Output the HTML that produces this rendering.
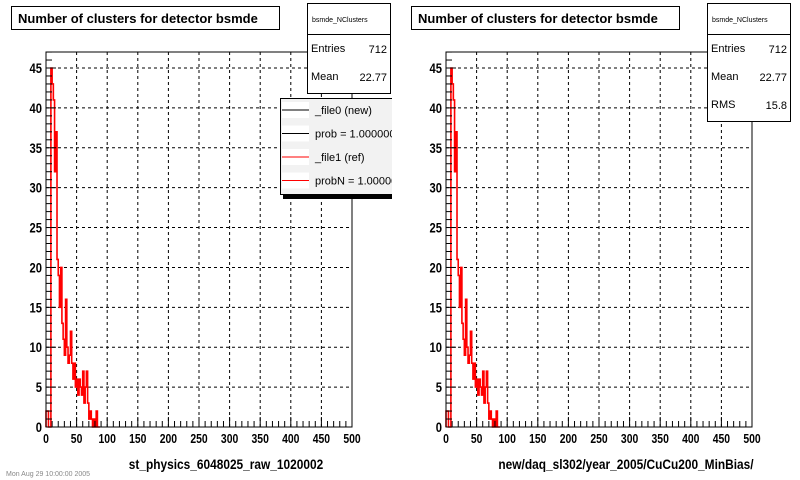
<!DOCTYPE html>
<html><head><meta charset="utf-8"><style>
html,body{margin:0;padding:0;background:#fff;width:800px;height:480px;overflow:hidden}
svg{display:block;font-family:"Liberation Sans",sans-serif}
</style></head><body>
<svg id="c" width="800" height="480" viewBox="0 0 800 480">
<defs><clipPath id="legclip"><rect x="0" y="0" width="392" height="480"/></clipPath></defs>
</svg>
<script>
const binWidth = 2;
const counts = [2,2,0,0,45,43,41,32,37,21,19,15,20,13,11,9,16,10,8,9,12,8,6,8,5,6,4,6,5,4,7,3,5,7,3,1,2,1,0,1,0,2,0,0];
const xTicks = [0,50,100,150,200,250,300,350,400,450,500];
const yTicks = [0,5,10,15,20,25,30,35,40,45];
const xTitles = ["st_physics_6048025_raw_1020002","new/daq_sl302/year_2005/CuCu200_MinBias/"];
const statsLeft = [["Entries","712"],["Mean","22.77"]];
const statsRight = [["Entries","712"],["Mean","22.77"],["RMS","15.8"]];
const legendLabels = ["_file0 (new)","prob = 1.000000","_file1 (ref)","probN = 1.000000"];
const legendColors = ["#000","#000","#f00","#f00"];

const NS="http://www.w3.org/2000/svg";
const svg=document.getElementById('c');
function mk(tag,attrs,parent){const e=document.createElementNS(NS,tag);for(const k in attrs)e.setAttribute(k,attrs[k]);(parent||svg).appendChild(e);return e;}

function panel(ox, idx, stats, legend){
  const g=mk('g',{});
  
  
  const L=ox+46,R=ox+352,T=52,B=427;
  const xs=v=>L+(v/500)*(R-L);
  const ys=v=>B-v*(B-68)/45;
  xTicks.slice(1,-1).forEach(v=>{const l=mk('line',{x1:xs(v),x2:xs(v),y1:T,y2:B,stroke:'#000','stroke-dasharray':'3,3','stroke-width':1},g);
    });
  yTicks.slice(1).forEach(v=>{const l=mk('line',{x1:L,x2:R,y1:ys(v),y2:ys(v),stroke:'#000','stroke-dasharray':'3,3','stroke-width':1},g);
    });
  let d=`M${xs(0)},${ys(0)}`;
  counts.forEach((c,i)=>{d+=` L${xs(i*binWidth)},${ys(c)} L${xs((i+1)*binWidth)},${ys(c)}`;});
  d+=` L${xs(counts.length*binWidth)},${ys(0)}`;
  const h=mk('path',{d:d,fill:'none',stroke:'#f00','stroke-width':1.6},g);
  
  
  const f=mk('rect',{x:L,y:T,width:R-L,height:B-T,fill:'none',stroke:'#000','stroke-width':1},g);
  
  for(let v=0;v<=500;v+=10){const major=v%50===0;mk('line',{x1:xs(v),x2:xs(v),y1:B,y2:B-(major?10:6),stroke:'#000'},g);}
  for(let v=0;v<=47;v+=1){if(ys(v)<T)break;const major=v%5===0;mk('line',{x1:L,x2:L+(major?10:6),y1:ys(v),y2:ys(v),stroke:'#000'},g);}
  xTicks.forEach(v=>{const t=mk('text',{x:xs(v),y:B+16,'text-anchor':'middle','font-size':13,'font-weight':'bold',transform:`translate(${xs(v)},0) scale(0.8,1) translate(${-xs(v)},0)`},g);t.textContent=v;
    });
  yTicks.forEach(v=>{const t=mk('text',{x:L-4,y:ys(v)+5,'text-anchor':'end','font-size':14,'font-weight':'bold',transform:`translate(${L-4},0) scale(0.8,1) translate(${-(L-4)},0)`},g);t.textContent=v;
    });
  const xt=mk('text',{x:ox+226,y:469,'text-anchor':'middle','font-size':14,'font-weight':'bold',transform:`translate(${ox+226},0) scale(0.85,1) translate(${-(ox+226)},0)`},g);
  xt.textContent=xTitles[idx];
  
  const tb=mk('rect',{x:ox+11.5,y:6.5,width:268,height:23,fill:'#fff',stroke:'#000'},g);
  
  const tt=mk('text',{x:ox+18,y:23,'font-size':13,'font-weight':'bold'},g);tt.textContent='Number of clusters for detector bsmde';
  
  const sh=34+stats.length*28;
  const sb=mk('rect',{x:ox+307.5,y:3.5,width:83,height:sh,fill:'#fff',stroke:'#000'},g);
  
  mk('line',{x1:ox+307,x2:ox+391,y1:34.5,y2:34.5,stroke:'#000'},g);
  const sn=mk('text',{x:ox+312,y:22,'font-size':7},g);sn.textContent='bsmde_NClusters';
  stats.forEach((s,i)=>{
    const a=mk('text',{x:ox+311,y:52+i*28,'font-size':11},g);a.textContent=s[0];
    
    const b=mk('text',{x:ox+387,y:53+i*28,'font-size':11,'text-anchor':'end'},g);b.textContent=s[1];
    
  });
  if(legend){
    const lg=mk('g',{'clip-path':'url(#legclip)'},g);
    
    mk('rect',{x:ox+283,y:101,width:112,height:98,fill:'#000'},lg);
    mk('rect',{x:ox+280.5,y:98.5,width:114,height:96,fill:'#f2f2f2',stroke:'#000'},lg);
    legendLabels.forEach((lab,i)=>{
      const y=110+i*23.5;
      mk('rect',{x:ox+282,y:y-8,width:27,height:16,fill:'#fff'},lg);
      mk('line',{x1:ox+282,x2:ox+309,y1:y,y2:y,stroke:legendColors[i],'stroke-width':1},lg);
      const t=mk('text',{x:ox+315,y:y+4,'font-size':11},lg);t.textContent=lab;
      
    });
  }
}
panel(0,0,statsLeft,true);
panel(400,1,statsRight,false);
const foot=mk('text',{x:6,y:476,'font-size':7,fill:'#888'});
foot.textContent='Mon Aug 29 10:00:00 2005';


</script>
</body></html>
